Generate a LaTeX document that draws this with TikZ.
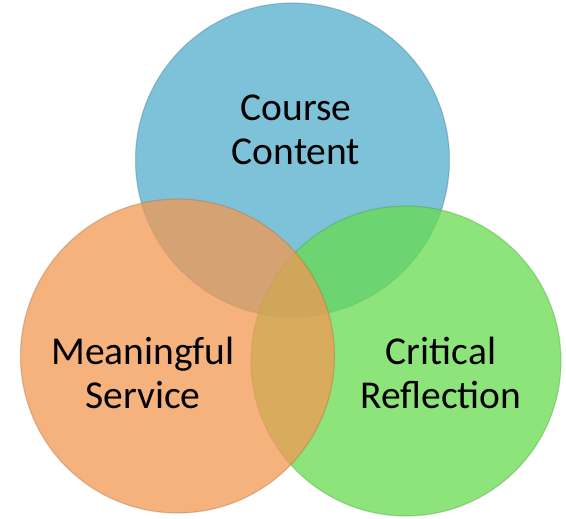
\documentclass[tikz,border=0pt]{standalone}
\usepackage{fontspec}
\setmainfont{Carlito}
\definecolor{cblue}{RGB}{83,174,206}
\definecolor{cgreen}{RGB}{103,219,78}
\definecolor{corange}{RGB}{242,152,82}
\begin{document}
\begin{tikzpicture}[x=1pt,y=-1pt,
  ring/.style={circle, fill opacity=0.75, draw opacity=0.35, line width=1.2pt, inner sep=0pt},
  lbl/.style={align=center, font=\fontsize{39.5}{44}\selectfont, text=black, inner sep=0pt}]
\useasboundingbox (0,0) rectangle (566,519);
\node[ring, fill=cblue, draw=cblue!70!black, minimum size=314pt] (blue) at (292.5,160) {};
\node[ring, fill=cgreen, draw=cgreen!70!black, minimum size=310pt] (green) at (406,361) {};
\node[ring, fill=corange, draw=corange!70!black, minimum size=314pt] (orange) at (177.5,356) {};
\node[lbl] (tcourse) at (296,130) {Course\\Content};
\node[lbl] (tmean) at (143,373) {Meaningful\\Service};
\node[lbl] (tcrit) at (441,373) {Critical\\Reflection};
\end{tikzpicture}
\end{document}
